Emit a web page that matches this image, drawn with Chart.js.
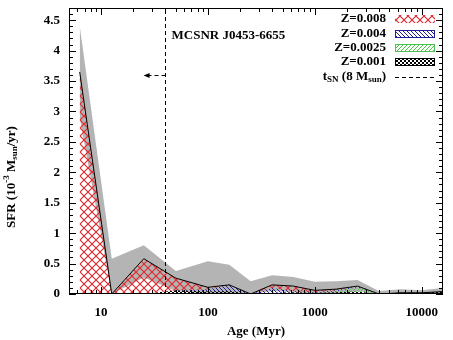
<!DOCTYPE html>
<html><head><meta charset="utf-8">
<style>html,body{margin:0;padding:0;background:#fff}canvas{display:block}</style>
<script src="https://cdn.jsdelivr.net/npm/chart.js@4/dist/chart.umd.min.js"></script>
</head><body>
<canvas id="c" width="453" height="340"></canvas>
<script>
// ---- data ----
const ages   = [6.31, 12.59, 25.12, 50.12, 100, 158.5, 251.2, 398.1, 631, 1000, 1585, 2512, 3981, 6310, 10000, 15849];
const z008   = [3.65, 0, 0.58, 0.20, 0.03, 0.00, 0, 0.05, 0.08, 0.03, 0.02, 0.00, 0, 0.00, 0.00, 0.00];
const z004   = [0, 0, 0, 0.00, 0.04, 0.10, 0, 0.08, 0.02, 0.01, 0.02, 0.02, 0, 0.00, 0.00, 0.00];
const z0025  = [0, 0, 0, 0.00, 0.00, 0.00, 0, 0.00, 0.00, 0.00, 0.01, 0.07, 0, 0.00, 0.00, 0.00];
const z001   = [0, 0, 0, 0.06, 0.04, 0.05, 0, 0.02, 0.03, 0.02, 0.03, 0.04, 0, 0.02, 0.02, 0.04];
const errLow = [2.90, 0, 0.27, 0.05, 0.00, 0.00, 0, 0.05, 0.03, 0.00, 0.00, 0.05, 0, 0.00, 0.00, 0.00];
const errHigh= [4.41, 0.58, 0.80, 0.38, 0.54, 0.48, 0.21, 0.31, 0.28, 0.20, 0.21, 0.23, 0.05, 0.08, 0.06, 0.10];
const xTicks = [10, 100, 1000, 10000];
const yTicks = [0, 0.5, 1, 1.5, 2, 2.5, 3, 3.5, 4, 4.5];
const tSN = 40;          // Myr
const arrowTip = 25;     // Myr
const arrowY = 3.6;
const snrName = 'MCSNR J0453-6655';
const legendLabels = ['Z=0.008', 'Z=0.004', 'Z=0.0025', 'Z=0.001'];

// ---- patterns ----
const cv = document.getElementById('c');
const ctx = cv.getContext('2d');
function tile(size, draw) {
  const t = document.createElement('canvas'); t.width = t.height = size;
  const g = t.getContext('2d'); draw(g, size); return ctx.createPattern(t, 'repeat');
}
const patRed = tile(8, (g, s) => {
  g.strokeStyle = '#e3262a'; g.lineWidth = 1.1;
  g.beginPath(); g.moveTo(0, 0); g.lineTo(s, s); g.moveTo(s, 0); g.lineTo(0, s); g.stroke();
});
const patBlue = tile(4, (g, s) => {
  g.strokeStyle = '#20209a'; g.lineWidth = 1;
  g.beginPath(); g.moveTo(-1, -1); g.lineTo(s + 1, s + 1); g.moveTo(-1, s - 1); g.lineTo(1, s + 1); g.moveTo(s - 1, -1); g.lineTo(s + 1, 1); g.stroke();
});
const patGreen = tile(4, (g, s) => {
  g.strokeStyle = '#4cc44c'; g.lineWidth = 1;
  g.beginPath(); g.moveTo(-1, s + 1); g.lineTo(s + 1, -1); g.moveTo(-1, 1); g.lineTo(1, -1); g.moveTo(s - 1, s + 1); g.lineTo(s + 1, s - 1); g.stroke();
});
const patBlack = tile(4, (g, s) => {
  g.fillStyle = '#000'; g.fillRect(0, 0, 2, 2); g.fillRect(2, 2, 2, 2);
});

// ---- build stacked series ----
const pts = arr => ages.map((a, i) => ({x: a, y: arr[i]}));
const c1 = z001.slice();
const c2 = c1.map((v, i) => v + z0025[i]);
const c3 = c2.map((v, i) => v + z004[i]);
const c4 = c3.map((v, i) => v + z008[i]);

const base = {pointRadius: 0, borderWidth: 0, tension: 0};
const datasets = [
  Object.assign({}, base, {label: 'low', data: pts(errLow), fill: false, order: 20}),
  Object.assign({}, base, {label: 'high', data: pts(errHigh), fill: 0, backgroundColor: '#b4b4b4', order: 19}),
  Object.assign({}, base, {label: 'Z=0.001', data: pts(c1), fill: 'origin', backgroundColor: patBlack, order: 5}),
  Object.assign({}, base, {label: 'Z=0.0025', data: pts(c2), fill: '-1', backgroundColor: patGreen, order: 4}),
  Object.assign({}, base, {label: 'Z=0.004', data: pts(c3), fill: '-1', backgroundColor: patBlue, order: 3}),
  Object.assign({}, base, {label: 'Z=0.008', data: pts(c4), fill: '-1', backgroundColor: patRed, borderColor: '#000', borderWidth: 1, order: 2})
];

const FONT = '"Liberation Serif", "Times New Roman", serif';

function runs(g, parts, x, y, align) {
  let w = 0;
  parts.forEach(p => { g.font = 'bold ' + p[1] + 'px ' + FONT; w += g.measureText(p[0]).width; });
  let cx = align === 'right' ? x - w : (align === 'center' ? x - w / 2 : x);
  g.textAlign = 'left';
  parts.forEach(p => { g.font = 'bold ' + p[1] + 'px ' + FONT; g.fillText(p[0], cx, y + p[2]); cx += g.measureText(p[0]).width; });
}

const deco = {
  id: 'deco',
  afterDraw(chart) {
    const g = chart.ctx, a = chart.chartArea, sx = chart.scales.x, sy = chart.scales.y;
    g.save();
    g.fillStyle = '#000'; g.strokeStyle = '#000'; g.lineWidth = 1;
    g.strokeRect(Math.round(a.left) + 0.5, Math.round(a.top) + 0.5, Math.round(a.right - a.left) - 1, Math.round(a.bottom - a.top) - 1);
    g.beginPath();
    for (let v = 0; v <= sy.max + 1e-9; v += 0.1) {
      const yy = Math.round(sy.getPixelForValue(v)) + 0.5;
      const major = Math.abs(v / 0.5 - Math.round(v / 0.5)) < 1e-6;
      const L = major ? 7 : 4;
      g.moveTo(a.left, yy); g.lineTo(a.left + L, yy);
      g.moveTo(a.right, yy); g.lineTo(a.right - L, yy);
    }
    for (let d = 1; d <= 10000; d *= 10) {
      for (let m = 1; m <= 9; m++) {
        const v = d * m;
        if (v < sx.min || v > sx.max) continue;
        const xx = Math.round(sx.getPixelForValue(v)) + 0.5;
        const L = m === 1 ? 7 : 4;
        g.moveTo(xx, a.bottom); g.lineTo(xx, a.bottom - L);
        g.moveTo(xx, a.top); g.lineTo(xx, a.top + L);
      }
    }
    g.stroke();
    const xs = Math.round(sx.getPixelForValue(tSN)) + 0.5;
    g.setLineDash([4, 3]);
    g.beginPath(); g.moveTo(xs, a.bottom); g.lineTo(xs, a.top); g.stroke();
    const ya = Math.round(sy.getPixelForValue(arrowY)) + 0.5;
    const xt = sx.getPixelForValue(arrowTip);
    g.beginPath(); g.moveTo(xs, ya); g.lineTo(xt + 4, ya); g.stroke();
    g.setLineDash([]);
    g.beginPath(); g.moveTo(xt, ya); g.lineTo(xt + 6, ya - 2.5); g.lineTo(xt + 6, ya + 2.5); g.closePath(); g.fill();
    g.textBaseline = 'middle';
    runs(g, [[snrName, 13, 0]], xs + 6, 36, 'left');
    const tr = 386, bx = 395, bw = 40, bh = 8;
    const pats = [patRed, patBlue, patGreen, patBlack];
    const cols = [null, '#20209a', '#4cc44c', '#000'];
    const rowY = [19, 34, 48, 62, 77];
    legendLabels.forEach((lab, i) => {
      runs(g, [[lab, 13, 0]], tr, rowY[i], 'right');
      g.fillStyle = pats[i];
      g.fillRect(bx, rowY[i] - bh / 2, bw, bh);
      if (cols[i]) { g.strokeStyle = cols[i]; g.strokeRect(bx + 0.5, rowY[i] - bh / 2 + 0.5, bw - 1, bh - 1); }
      g.fillStyle = '#000';
    });
    runs(g, [['t', 13, 0], ['SN', 9, 3], [' (8 M', 13, 0], ['sun', 9, 3], [')', 13, 0]], tr, rowY[4], 'right');
    g.strokeStyle = '#000'; g.setLineDash([4, 3]);
    g.beginPath(); g.moveTo(bx, rowY[4] + 0.5); g.lineTo(bx + bw, rowY[4] + 0.5); g.stroke();
    g.setLineDash([]);
    runs(g, [['Age (Myr)', 13, 0]], (a.left + a.right) / 2, 332, 'center');
    g.save();
    g.translate(12, 177);
    g.rotate(-Math.PI / 2);
    runs(g, [['SFR (10', 13, 0], ['-3', 9, -5], [' M', 13, 0], ['sun', 9, 3], ['/yr)', 13, 0]], 0, 0, 'center');
    g.restore();
    g.restore();
  }
};

Chart.defaults.font.family = FONT;
Chart.defaults.font.weight = 'bold';
Chart.defaults.font.size = 13;
Chart.defaults.color = '#000';

new Chart(cv, {
  type: 'line',
  data: {datasets},
  options: {
    responsive: false, animation: false, devicePixelRatio: 1,
    layout: {padding: {left: 0, right: 10, top: 8, bottom: 0}},
    plugins: {legend: {display: false}, tooltip: {enabled: false}},
    elements: {line: {tension: 0}},
    scales: {
      x: {
        type: 'logarithmic', min: 5.012, max: 15849,
        grid: {display: false, drawTicks: false}, border: {display: false},
        afterBuildTicks: s => { s.ticks = xTicks.map(v => ({value: v})); },
        afterFit: s => { s.height = 46; s.paddingLeft = 0; s.paddingRight = 0; },
        ticks: {padding: 11, autoSkip: false, maxRotation: 0, callback: v => String(v)}
      },
      y: {
        type: 'linear', min: 0, max: 4.7,
        grid: {display: false, drawTicks: false}, border: {display: false},
        afterBuildTicks: s => { s.ticks = yTicks.map(v => ({value: v})); },
        afterFit: s => { s.width = 69; s.paddingTop = 0; s.paddingBottom = 0; },
        ticks: {padding: 9, callback: v => String(v)}
      }
    }
  },
  plugins: [deco]
});
</script>
</body></html>
